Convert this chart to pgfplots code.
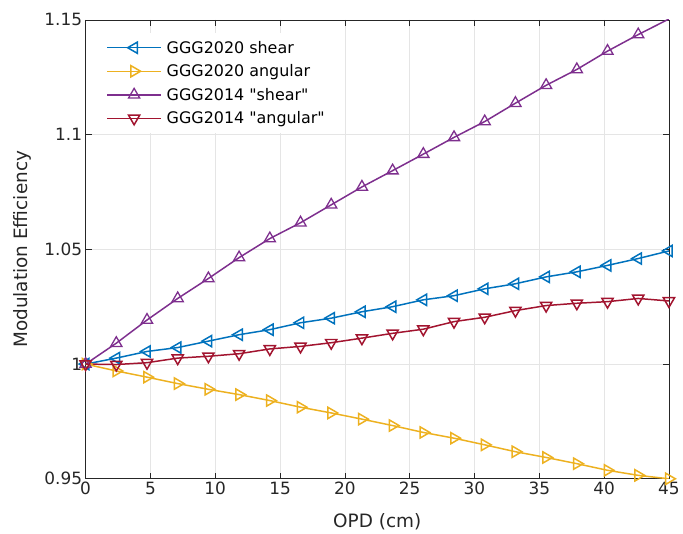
\documentclass[border=0pt]{standalone}
\usepackage{pgfplots}
\pgfplotsset{compat=1.18}
\usepackage{fontspec}
\setmainfont{DejaVu Sans}[Ligatures=TeXOff]
\definecolor{mblue}{rgb}{0,0.447,0.741}
\definecolor{myellow}{rgb}{0.929,0.694,0.125}
\definecolor{mpurple}{rgb}{0.494,0.184,0.556}
\definecolor{mred}{rgb}{0.635,0.078,0.184}
\definecolor{axgray}{rgb}{0.15,0.15,0.15}
\begin{document}
\begin{tikzpicture}
\begin{axis}[
  scale only axis,
  width=586pt, height=461pt,
  xmin=0, xmax=45, ymin=0.95, ymax=1.15,
  xtick={0,5,...,45},
  ytick={0.95,1,1.05,1.1,1.15},
  yticklabels={0.95,1,1.05,1.1,1.15},
  /pgf/number format/assume math mode=true,
  tick label style={font=\fontsize{17}{20}\selectfont, text=axgray},
  label style={font=\fontsize{18.5}{22}\selectfont, text=axgray},
  xlabel={OPD (cm)},
  ylabel={Modulation Efficiency},
  xlabel style={yshift=-12pt},
  ylabel style={yshift=6pt},
  axis line style={axgray, line width=0.6pt},
  tick style={axgray, line width=0.6pt},
  major tick length=6pt,
  tick align=inside,
  xtick pos=both, ytick pos=both,
  grid=major,
  major grid style={gray!20, line width=0.6pt},
  every axis plot/.append style={line width=1.5pt, mark size=6.5pt, mark options={solid, fill=none, line width=1.3pt}},
  legend style={at={(0.015,0.972)}, anchor=north west, draw=none, fill=white,
    font=\fontsize{16}{19}\selectfont, text=black, row sep=6pt, inner xsep=12pt, inner ysep=6pt,
    nodes={inner xsep=5pt}},
  legend cell align=left,
  legend image code/.code={\draw[mark repeat=2,mark phase=2] plot coordinates {(0pt,0pt)(27pt,0pt)(54pt,0pt)};},
]
\addplot[color=mblue, mark=triangle, mark options={rotate=90}] coordinates {
(0,1.0000)(2.368,1.0026)(4.737,1.0055)(7.105,1.0072)(9.474,1.0100)(11.842,1.0128)(14.211,1.0150)(16.579,1.0180)(18.947,1.0200)(21.316,1.0228)(23.684,1.0250)(26.053,1.0280)(28.421,1.0298)(30.789,1.0328)(33.158,1.0350)(35.526,1.0380)(37.895,1.0402)(40.263,1.0430)(42.632,1.0460)(45,1.0493)};
\addlegendentry{GGG2020 shear}
\addplot[color=myellow, mark=triangle, mark options={rotate=-90}] coordinates {
(0,1.0000)(2.368,0.9970)(4.737,0.9943)(7.105,0.9915)(9.474,0.9890)(11.842,0.9867)(14.211,0.9841)(16.579,0.9812)(18.947,0.9787)(21.316,0.9760)(23.684,0.9732)(26.053,0.9702)(28.421,0.9677)(30.789,0.9648)(33.158,0.9618)(35.526,0.9593)(37.895,0.9566)(40.263,0.9537)(42.632,0.9515)(45,0.9500)};
\addlegendentry{GGG2020 angular}
\addplot[color=mpurple, mark=triangle] coordinates {
(0,1.0000)(2.368,1.0091)(4.737,1.0192)(7.105,1.0286)(9.474,1.0373)(11.842,1.0464)(14.211,1.0547)(16.579,1.0616)(18.947,1.0694)(21.316,1.0772)(23.684,1.0843)(26.053,1.0915)(28.421,1.0988)(30.789,1.1057)(33.158,1.1137)(35.526,1.1215)(37.895,1.1284)(40.263,1.1364)(42.632,1.1436)(45,1.1504)};
\addlegendentry{GGG2014 "shear"}
\addplot[color=mred, mark=triangle, mark options={rotate=180}] coordinates {
(0,1.0000)(2.368,0.9998)(4.737,1.0006)(7.105,1.0026)(9.474,1.0034)(11.842,1.0045)(14.211,1.0066)(16.579,1.0077)(18.947,1.0093)(21.316,1.0113)(23.684,1.0134)(26.053,1.0152)(28.421,1.0185)(30.789,1.0204)(33.158,1.0233)(35.526,1.0255)(37.895,1.0265)(40.263,1.0272)(42.632,1.0286)(45,1.0275)};
\addlegendentry{GGG2014 "angular"}
\end{axis}
\path (current axis.south west) ++(-86pt,-54pt) coordinate (bbl);
\path (current axis.north east) ++(11pt,20pt) coordinate (bbr);
\useasboundingbox (bbl) rectangle (bbr);
\end{tikzpicture}
\end{document}
